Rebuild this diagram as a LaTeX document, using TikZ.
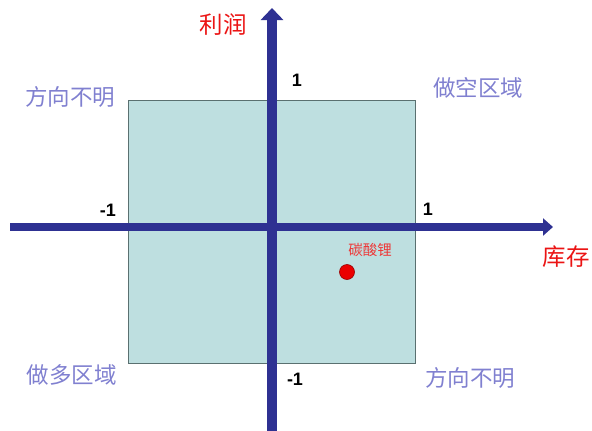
\documentclass[tikz,border=0pt]{standalone}
\usepackage{fontspec}
\setmainfont{Liberation Sans}
\newfontfamily\cjk{Noto Sans CJK SC}
\usetikzlibrary{arrows.meta}
\definecolor{axisblue}{RGB}{46,49,146}
\definecolor{boxfill}{RGB}{190,223,224}
\definecolor{boxedge}{RGB}{90,112,112}
\definecolor{zonecol}{RGB}{128,128,208}
\definecolor{redlab}{RGB}{235,20,20}
\definecolor{dotred}{RGB}{235,0,0}
\tikzset{
  axisline/.style={draw=axisblue,line width=8.5pt},
  zonelabel/.style={font=\cjk\fontsize{22.5}{22.5}\selectfont,text=zonecol,inner sep=0pt},
  axislabel/.style={font=\cjk\fontsize{23.5}{23.5}\selectfont,text=redlab,inner sep=0pt},
  ticklabel/.style={font=\bfseries\fontsize{18}{18}\selectfont,inner sep=0pt},
}
\begin{document}
\begin{tikzpicture}[x=1pt,y=-1pt]
\useasboundingbox (0,0) rectangle (592,431);
\draw[fill=boxfill,draw=boxedge,line width=0.8pt] (128,100) rectangle (415,363);
% axes
\coordinate (xs) at (10,227);
\coordinate (xe) at (553,227);
\coordinate (ys) at (272,431);
\coordinate (ye) at (272,8);
\draw[axisline,-{Triangle[length=10pt,width=17pt]}] (xs) -- (xe);
\draw[axisline,line width=9.5pt,-{Triangle[length=12pt,width=22pt]}] (ys) -- (ye);
% axis labels
\node[axislabel] (profit) at (223,25) {利润};
\node[axislabel] (stock) at (566,257) {库存};
% ticks
\node[ticklabel] (t1) at (297,80) {1};
\node[ticklabel] (t2) at (108,210) {-1};
\node[ticklabel] (t3) at (428,209) {1};
\node[ticklabel] (t4) at (295,379) {-1};
% zones
\node[zonelabel] (z1) at (70,97) {方向不明};
\node[zonelabel] (z2) at (478,88) {做空区域};
\node[zonelabel] (z3) at (72,375) {做多区域};
\node[zonelabel] (z4) at (470,378) {方向不明};
% point
\node[circle,fill=dotred,draw=red!60!black,line width=0.6pt,minimum size=15pt,inner sep=0pt] (dot) at (347,272) {};
\node[font=\cjk\fontsize{14.5}{14.5}\selectfont,text=redlab!85!white,inner sep=0pt] (lith) at (370,250) {碳酸锂};
\end{tikzpicture}
\end{document}
